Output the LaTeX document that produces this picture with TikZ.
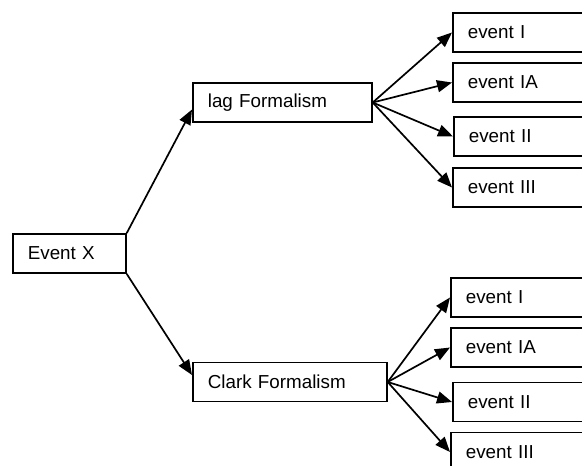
\documentclass[tikz,border=0pt]{standalone}
\usepackage{fontspec}
\setmainfont{Liberation Sans}
\usetikzlibrary{arrows.meta}

\begin{document}
\begin{tikzpicture}[x=1pt,y=-1pt,line width=1.7pt,>={Triangle[length=15pt,width=12pt]}]
\tikzstyle{box}=[rectangle,draw,black,fill=white,anchor=west,minimum height=39pt,inner xsep=15pt,text width=#1,align=left,font=\fontsize{18.8}{22}\selectfont]
\useasboundingbox (0,0) rectangle (582,466);
\clip (0,0) rectangle (582,466);

\node[box=83pt](X) at (12,253.5) {Event X};
\node[box=149pt](lag) at (192,102.5) {lag Formalism};
\node[box=164pt](clark) at (192,382) {Clark Formalism};

% events of both formalisms
\foreach \name/\txt/\x/\y in {lI/event I/452/32.5, lIA/event IA/452/82.5, lII/event II/453/136.5, lIII/event III/452/187.5,
                              cI/event I/450/297.5, cIA/event IA/450/347.5, cII/event II/452/402, cIII/event III/450/452}
  \node[box=130pt](\name) at (\x,\y) {\txt};

\path (X.north east) edge[->] ([yshift=-7pt]lag.west)
      (X.south east) edge[->] ([yshift=7pt]clark.west);

\foreach \e in {lI,lIA,lII,lIII}
  \path (lag.east) edge[->] (\e.west);
\foreach \e in {cI,cIA,cII,cIII}
  \path (clark.east) edge[->] (\e.west);

\end{tikzpicture}
\end{document}
